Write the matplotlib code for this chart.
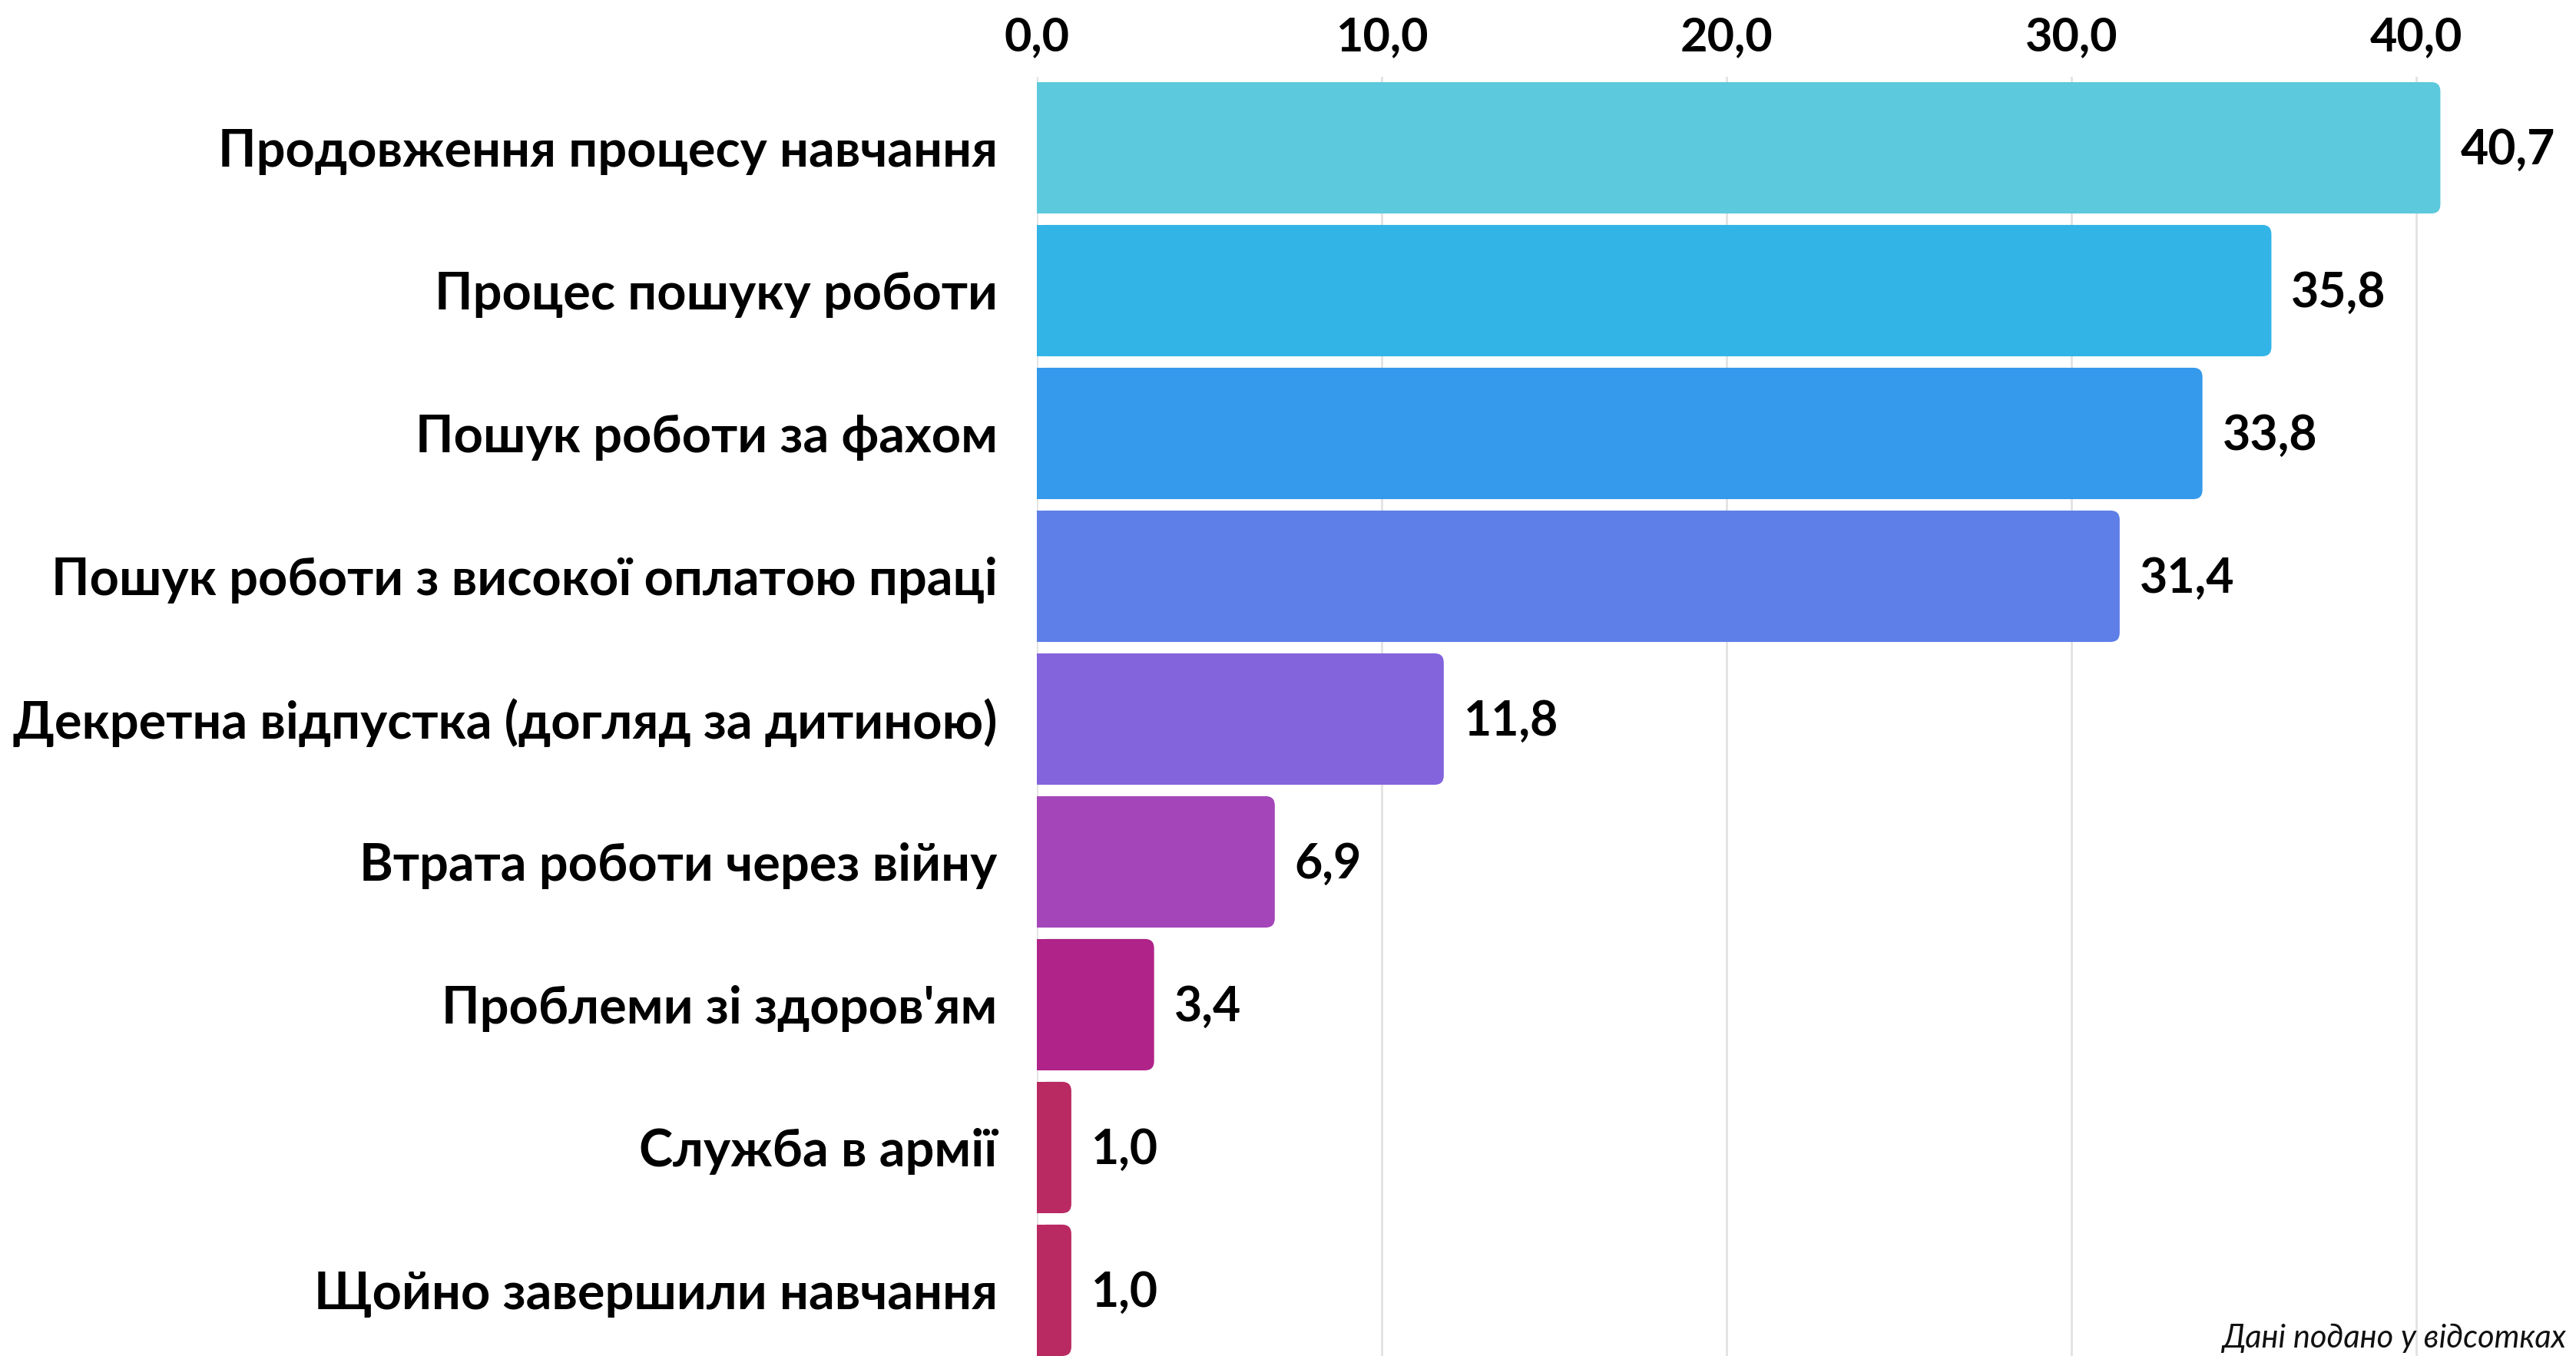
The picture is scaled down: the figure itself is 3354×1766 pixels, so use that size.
import matplotlib
matplotlib.use("Agg")
import matplotlib.pyplot as plt
from matplotlib.patches import FancyBboxPatch

# data
categories = [
    "Продовження процесу навчання",
    "Процес пошуку роботи",
    "Пошук роботи за фахом",
    "Пошук роботи з високої оплатою праці",
    "Декретна відпустка (догляд за дитиною)",
    "Втрата роботи через війну",
    "Проблеми зі здоров'ям",
    "Служба в армії",
    "Щойно завершили навчання",
]
values = [40.7, 35.8, 33.8, 31.4, 11.8, 6.9, 3.4, 1.0, 1.0]
colors = ["#5CC9DC", "#33B4E6", "#3599EC", "#5E7FE7", "#8364DD",
          "#A445B9", "#B02388", "#BA2A62", "#BA2A62"]
xticks = [0, 10, 20, 30, 40]
note = "Дані подано у відсотках"

plt.rcParams['font.family'] = ['Lato', 'DejaVu Sans']

W, H, DPI = 3354, 1766, 100
fig = plt.figure(figsize=(W / DPI, H / DPI), dpi=DPI)
ax = fig.add_axes([1350 / W, 0, 1 - 1350 / W, 1 - 99.5 / H])

# pixels per unit on each axis
px_x = 44.9
px_y = 186.0
ax.set_xlim(0, (W - 1350) / px_x)
ax.set_ylim(8.46, -0.5)

bar_h = 0.92
ypos = list(range(len(categories)))

# rounded right end: radius in x units, aspect keeps it circular
r = 12 / px_x
aspect = px_x / px_y

for y, v, c in zip(ypos, values, colors):
    ax.add_patch(FancyBboxPatch((0, y - bar_h / 2), v, bar_h,
                                boxstyle=f"round,pad=0,rounding_size={r}",
                                mutation_aspect=aspect,
                                facecolor=c, edgecolor="none", zorder=3))
    ax.barh(y, v - r * 1.5, height=bar_h, color=c, zorder=3)
    ax.text(v + 26 / px_x, y + 0.02, f"{v:.1f}".replace(".", ","),
            va="center", ha="left", fontsize=45, fontweight="bold", zorder=4)

ax.set_yticks(ypos)
ax.set_yticklabels(categories, fontsize=48, fontweight="bold")
ax.tick_params(axis="y", length=0, pad=37)

ax.xaxis.tick_top()
ax.set_xticks(xticks)
ax.set_xticklabels([f"{t:.1f}".replace(".", ",") for t in xticks],
                   fontsize=44, fontweight="bold")
ax.tick_params(axis="x", length=0, pad=17)

ax.grid(axis="x", color="#E2E2E2", linewidth=2, zorder=0)
ax.set_axisbelow(True)
for s in ax.spines.values():
    s.set_visible(False)

fig.text(3341 / W, 4 / H, note, ha="right", va="bottom", fontsize=30,
         fontstyle="italic", fontweight="normal", color="#111111")

fig.savefig("out.png", dpi=DPI)
